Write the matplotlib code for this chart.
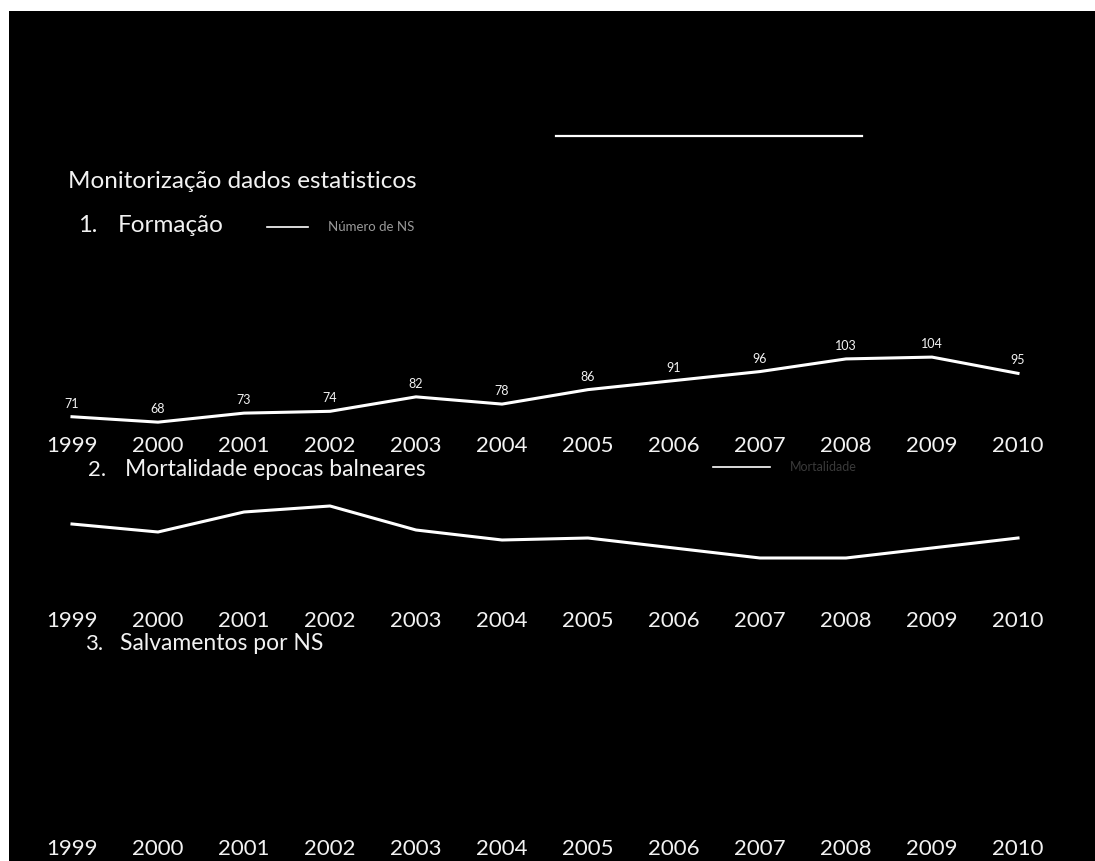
import matplotlib
matplotlib.use("Agg")
import matplotlib.pyplot as plt
from matplotlib.patches import Rectangle
from matplotlib.lines import Line2D

# ---- data ----
years = ["1999", "2000", "2001", "2002", "2003", "2004", "2005", "2006", "2007", "2008", "2009", "2010"]
formacao_ns = [71, 68, 73, 74, 82, 78, 86, 91, 96, 103, 104, 95]
mortalidade = [48, 44, 54, 57, 45, 40, 41, 36, 31, 31, 36, 41]

main_title = "Monitorização dados estatisticos"
sec_titles = ["Formação", "Mortalidade epocas balneares", "Salvamentos por NS"]
legend_1 = "Número de NS"
legend_2 = "Mortalidade"

W, H = 1095, 861
plt.rcParams["font.family"] = ["Lato", "DejaVu Sans"]
fig = plt.figure(figsize=(W / 100, H / 100), dpi=100, facecolor="white")

def fx(x):
    return x / W

def fy(y):
    return 1 - y / H

# black slide area (scan leaves a white margin top/left)
fig.add_artist(Rectangle((fx(9), 0), 1 - fx(9), fy(11), transform=fig.transFigure,
                         facecolor="black", edgecolor="none", zorder=0))

# decorative top rule
fig.add_artist(Line2D([fx(556), fx(862)], [fy(136), fy(136)], transform=fig.transFigure,
                      color="white", lw=1.6))

TXT = "#f2f2f2"
fig.text(fx(68), fy(181), main_title, color=TXT, fontsize=17.5, va="center", ha="left")

# section headings
fig.text(fx(78), fy(225), "1.", color=TXT, fontsize=17, va="center")
fig.text(fx(118), fy(225), sec_titles[0], color=TXT, fontsize=17.5, va="center")
fig.add_artist(Line2D([fx(267), fx(308)], [fy(227), fy(227)], transform=fig.transFigure,
                      color="white", lw=1.2))
fig.text(fx(328), fy(227), legend_1, color="#9a9a9a", fontsize=9.5, va="center")

fig.text(fx(88), fy(470), "2.", color=TXT, fontsize=16, va="center")
fig.text(fx(125), fy(470), sec_titles[1], color=TXT, fontsize=16.5, va="center")
fig.add_artist(Line2D([fx(713), fx(770)], [fy(467), fy(467)], transform=fig.transFigure,
                      color="white", lw=1.2))
fig.text(fx(790), fy(467), legend_2, color="#3a3a3a", fontsize=9, va="center")

fig.text(fx(85), fy(644), "3.", color=TXT, fontsize=16, va="center")
fig.text(fx(120), fy(644), sec_titles[2], color=TXT, fontsize=16.5, va="center")

x = list(range(len(years)))

def make_axes(top, bottom, ylim):
    ax = fig.add_axes([fx(40), fy(bottom), fx(1050) - fx(40), (bottom - top) / H])
    ax.set_facecolor("none")
    ax.set_xlim(-0.372, 11.372)
    ax.set_ylim(*ylim)
    for s in ax.spines.values():
        s.set_visible(False)
    ax.set_yticks([])
    ax.set_xticks(x, years)
    ax.tick_params(axis="x", length=0, pad=2, labelsize=16, labelcolor=TXT)
    return ax

ax1 = make_axes(330, 433, (62, 119))
ax1.plot(x, formacao_ns, color="white", lw=2.2, solid_joinstyle="round")
for xi, v in zip(x, formacao_ns):
    ax1.annotate(str(v), (xi, v), xytext=(0, 5), textcoords="offset points",
                 ha="center", va="bottom", fontsize=9, color=TXT)

ax2 = make_axes(480, 608, (6, 70))
ax2.plot(x, mortalidade, color="white", lw=2.2, solid_joinstyle="round")

ax3 = make_axes(650, 836, (0, 1))

fig.savefig("out.png", dpi=100, facecolor="white")
